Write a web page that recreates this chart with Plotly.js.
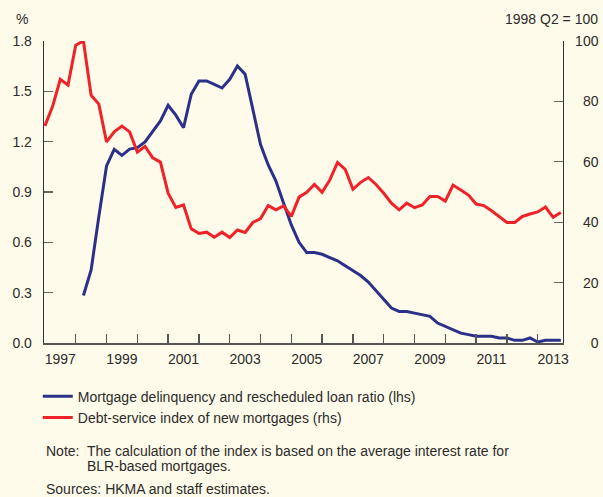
<!DOCTYPE html>
<html>
<head>
<meta charset="utf-8">
<script src="https://cdn.plot.ly/plotly-3.0.1.min.js"></script>
<style>
html,body{margin:0;padding:0;background:#FFFBEA;}
#chart{width:603px;height:497px;}
</style>
</head>
<body>
<div id="chart"></div>
<script>
// Quarterly data
var redStartYear = 1997; // 1997 Q1
var debtServiceIndex = [
  71.9, 78.4, 87.3, 85.4,
  98.6, 100, 82.0, 79.1,
  66.6, 69.9, 71.8, 69.9,
  63.2, 65.1, 61.3, 59.9,
  49.6, 44.9, 45.7, 37.8,
  36.3, 36.7, 35.0, 36.7,
  34.9, 37.4, 36.6, 39.9,
  41.2, 45.5, 44.1, 45.4,
  41.9, 48.3, 49.9, 52.5,
  49.9, 54.0, 59.8, 57.5,
  50.9, 53.2, 54.8, 52.5,
  49.6, 46.3, 44.1, 46.3,
  44.8, 45.7, 48.5, 48.5,
  47.0, 52.3, 50.7, 49.0,
  46.0, 45.5, 43.8, 41.9,
  39.9, 39.9, 41.9, 42.7,
  43.4, 45.0, 41.6, 43.2
];
var blueStartYear = 1998.25; // 1998 Q2
var delinquencyRatio = [
  0.283, 0.436, 0.753,
  1.055, 1.154, 1.118, 1.156,
  1.164, 1.199, 1.259, 1.324,
  1.417, 1.358, 1.283, 1.483,
  1.562, 1.562, 1.542, 1.520,
  1.572, 1.651, 1.602, 1.388,
  1.183, 1.061, 0.965, 0.833,
  0.704, 0.600, 0.539, 0.539,
  0.529, 0.509, 0.490, 0.460,
  0.430, 0.402, 0.363, 0.311,
  0.262, 0.208, 0.188, 0.188,
  0.178, 0.168, 0.159, 0.119,
  0.099, 0.079, 0.059, 0.050,
  0.040, 0.040, 0.040, 0.030,
  0.030, 0.016, 0.016, 0.030,
  0.006, 0.016, 0.016, 0.016
];
var yearTicks = [1998,1999,2000,2001,2002,2003,2004,2005,2006,2007,2008,2009,2010,2011,2012,2013];
var yearLabels = ['1997','1999','2001','2003','2005','2007','2009','2011','2013'];
var leftTicks = [0, 0.3, 0.6, 0.9, 1.2, 1.5, 1.8];
var leftTickText = ['0.0','0.3','0.6','0.9','1.2','1.5','1.8'];
var rightTicks = [0, 20, 40, 60, 80, 100];
var rightTickText = ['\u2007\u20070','\u200720','\u200740','\u200760','\u200780','100'];

function quarterX(start, n){ var a=[]; for(var i=0;i<n;i++) a.push(start + i*0.25); return a; }
var labelPos = yearLabels.map(function(y){ return Number(y) + 0.5; });

var FONT = 'Liberation Sans, Arial, sans-serif';
var TXT = '#2b2b2b';
var xr = [1996.97, 2013.82];

var traces = [
  {x: quarterX(blueStartYear, delinquencyRatio.length), y: delinquencyRatio, type:'scatter', mode:'lines',
   name:'Mortgage delinquency and rescheduled loan ratio (lhs)', line:{color:'#2B3089', width:3}, xaxis:'x', yaxis:'y'},
  {x: quarterX(redStartYear, debtServiceIndex.length), y: debtServiceIndex, type:'scatter', mode:'lines',
   name:'Debt-service index of new mortgages (rhs)', line:{color:'#EE2228', width:3}, xaxis:'x2', yaxis:'y2'}
];

var layout = {
  width:603, height:497,
  margin:{l:44, r:40, t:41, b:154, pad:0},
  paper_bgcolor:'#FFFBEA', plot_bgcolor:'#FFFBEA',
  font:{family:FONT, size:14, color:TXT},
  showlegend:true,
  legend:{x:-0.012, xanchor:'left', y:-0.125, yanchor:'top', orientation:'v',
          font:{family:FONT, size:14, color:TXT}, bgcolor:'rgba(0,0,0,0)', tracegroupgap:0, itemwidth:30},
  xaxis:{range:xr, tickmode:'array', tickvals:yearTicks, showticklabels:false,
         ticks:'inside', ticklen:9, tickwidth:1.3, tickcolor:'#555',
         showline:true, linecolor:'#555', linewidth:2, showgrid:false, zeroline:false, fixedrange:true},
  xaxis2:{range:xr, overlaying:'x', anchor:'y', side:'bottom', tickmode:'array', tickvals:labelPos, ticktext:yearLabels,
          ticks:'', showline:false, showgrid:false, zeroline:false, ticklabelstandoff:6,
          tickfont:{family:FONT, size:14, color:TXT}},
  yaxis:{range:[0,1.8], tickmode:'array', tickvals:leftTicks, ticktext:leftTickText,
         ticks:'inside', ticklen:9, tickwidth:1.3, tickcolor:'#666',
         showline:true, linecolor:'#333', linewidth:1.3, showgrid:false, zeroline:false,
         ticklabelstandoff:8, tickfont:{family:FONT, size:14, color:TXT}},
  yaxis2:{range:[0,100], overlaying:'y', side:'right', anchor:'x', tickmode:'array', tickvals:rightTicks, ticktext:rightTickText,
          ticks:'inside', ticklen:9, tickwidth:1.3, tickcolor:'#666',
          showline:true, linecolor:'#333', linewidth:1.3, showgrid:false, zeroline:false,
          ticklabelstandoff:8, tickfont:{family:FONT, size:14, color:TXT}},
  annotations:[
    {text:'%', xref:'paper', yref:'paper', x:-0.058, y:1.073, xanchor:'left', yanchor:'middle', showarrow:false, font:{family:FONT,size:14,color:TXT}},
    {text:'1998 Q2 = 100', xref:'paper', yref:'paper', x:1.072, y:1.073, xanchor:'right', yanchor:'middle', showarrow:false, font:{family:FONT,size:14,color:TXT}},
    {text:'Note:', xref:'paper', yref:'paper', x:0.0, y:-0.358, xanchor:'left', yanchor:'middle', showarrow:false, font:{family:FONT,size:14,color:TXT}},
    {text:'The calculation of the index is based on the average interest rate for', xref:'paper', yref:'paper', x:0.079, y:-0.358, xanchor:'left', yanchor:'middle', showarrow:false, font:{family:FONT,size:14,color:TXT}},
    {text:'BLR-based mortgages.', xref:'paper', yref:'paper', x:0.079, y:-0.408, xanchor:'left', yanchor:'middle', showarrow:false, font:{family:FONT,size:14,color:TXT}},
    {text:'Sources: HKMA and staff estimates.', xref:'paper', yref:'paper', x:0.0, y:-0.484, xanchor:'left', yanchor:'middle', showarrow:false, font:{family:FONT,size:14,color:TXT}}
  ]
};

Plotly.newPlot('chart', traces, layout, {staticPlot:true, displayModeBar:false});
</script>
</body>
</html>
